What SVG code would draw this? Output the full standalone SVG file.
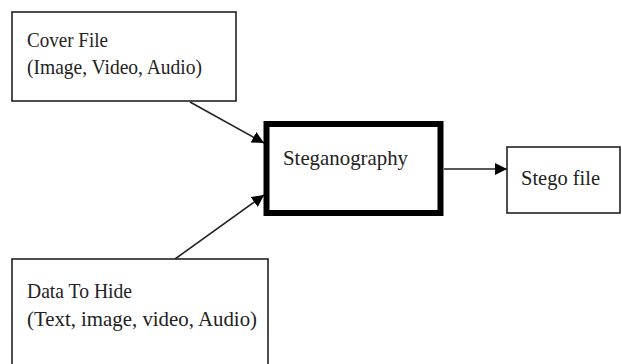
<svg xmlns="http://www.w3.org/2000/svg" width="622" height="364" viewBox="0 0 622 364">
<defs>
<style>
.box{fill:#fff;stroke:#222;stroke-width:1.6}
.thick{fill:#fff;stroke:#000;stroke-width:6}
.t{font-family:"Liberation Serif","Times New Roman",serif;font-size:21px;fill:#222}
.c{stroke:#222;stroke-width:1.6;fill:none}
</style>
<marker id="ah" viewBox="0 0 10 10" refX="10" refY="5" markerWidth="12" markerHeight="12" markerUnits="userSpaceOnUse" orient="auto">
<path d="M0,0 L10,5 L0,10 Z" fill="#000"/>
</marker>
</defs>
<g id="connectors">
<line class="c" x1="190" y1="102" x2="264" y2="143" marker-end="url(#ah)"/>
<line class="c" x1="175" y1="259" x2="264" y2="195" marker-end="url(#ah)"/>
<line class="c" x1="444" y1="169" x2="507" y2="169" marker-end="url(#ah)"/>
</g>
<g id="cover">
<rect class="box" x="12" y="12" width="224" height="89"/>
<text class="t" x="27" y="47" textLength="81" lengthAdjust="spacingAndGlyphs">Cover File</text>
<text class="t" x="27" y="74" textLength="175" lengthAdjust="spacingAndGlyphs">(Image, Video, Audio)</text>
</g>
<g id="steganography">
<rect class="thick" x="266.5" y="124" width="174" height="89"/>
<text class="t" x="283" y="165" textLength="125" lengthAdjust="spacingAndGlyphs">Steganography</text>
</g>
<g id="stego">
<rect class="box" x="507" y="147" width="113" height="66"/>
<text class="t" x="521" y="185" textLength="79" lengthAdjust="spacingAndGlyphs">Stego file</text>
</g>
<g id="data">
<rect class="box" x="12" y="259" width="256" height="120"/>
<text class="t" x="27" y="298" textLength="105" lengthAdjust="spacingAndGlyphs">Data To Hide</text>
<text class="t" x="27" y="326" textLength="230" lengthAdjust="spacingAndGlyphs">(Text, image, video, Audio)</text>
</g>
</svg>
